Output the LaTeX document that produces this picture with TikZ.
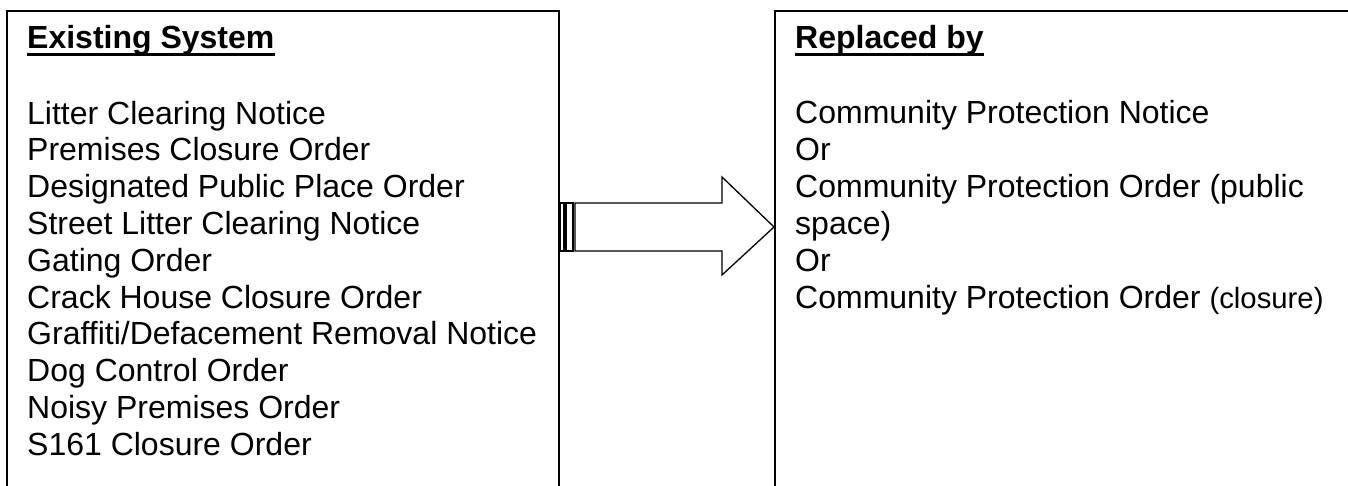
\documentclass[tikz,border=0pt]{standalone}
\usepackage{fontspec}
\setmainfont[Ligatures=NoCommon]{Liberation Sans}
\usetikzlibrary{positioning,calc}

\begin{document}
\begin{tikzpicture}[x=1pt,y=-1pt,
panel/.style={draw=black,line width=2pt,anchor=north west,inner sep=0pt,minimum height=540pt},
heading/.style={font=\bfseries\fontsize{32}{36.8}\selectfont,anchor=base west,inner sep=0pt},
itemlist/.style={font=\fontsize{32}{36.8}\selectfont,align=left,anchor=base west,inner sep=0pt},
arrowline/.style={draw=black,line width=1.3pt,fill=white}]
\useasboundingbox (0,0) rectangle (1348,486);

\node[panel,minimum width=552pt] (exist) at (6,10) {};
\node[panel,minimum width=620pt] (repl) at (774,10) {};

\node[heading] (exhead) at (27,49) {Existing System};
\node[heading] (rehead) at (795,49) {Replaced by};
\draw[line width=3pt] ([yshift=-5.5pt]exhead.base west) -- ([yshift=-5.5pt]exhead.base east);
\draw[line width=3pt] ([yshift=-5.5pt]rehead.base west) -- ([yshift=-5.5pt]rehead.base east);

\node[itemlist] (exlist) at (27,455.2) {Litter Clearing Notice\\
Premises Closure Order\\
Designated Public Place Order\\
Street Litter Clearing Notice\\
Gating Order\\
Crack House Closure Order\\
Graffiti/Defacement Removal Notice\\
Dog Control Order\\
Noisy Premises Order\\
S161 Closure Order};
\node[itemlist] (relist) at (795,308) {Community Protection Notice\\
Or\\
Community Protection Order (public\\
space)\\
Or\\
Community Protection Order {\fontsize{29.3}{36.8}\selectfont(closure)}};

\path (exist.north east) ++(0,217) coordinate (tail);
\begin{scope}[shift={(tail)}]
\draw[arrowline] (0,-24) rectangle (4,24);
\draw[arrowline] (6,-24) rectangle (13,24);
\draw[arrowline] (15,-24) -- (162,-24) -- (162,-50) -- (repl.west |- tail) -- (162,48) -- (162,24) -- (15,24) -- cycle;
\end{scope}
\end{tikzpicture}
\end{document}
